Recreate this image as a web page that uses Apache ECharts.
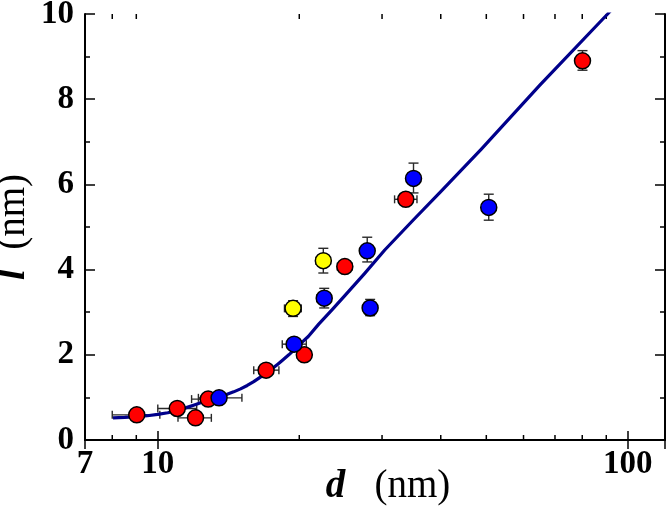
<!DOCTYPE html>
<html><head><meta charset="utf-8">
<script src="https://cdn.jsdelivr.net/npm/echarts@6/dist/echarts.min.js"></script>
<style>html,body{margin:0;padding:0;background:#fff}#c{width:667px;height:514px}</style>
</head><body><div id="c"></div>
<script>
// ---- data ----
const redD     = [9.02, 11.0, 12.03, 12.8, 17.0, 20.5, 25.0, 33.7, 80.1];
const redDLo   = [8.0, 10.0, 11.04, 11.8, 16.0, 19.8, 24.1, 31.9, 80.1];
const redDHi   = [10.1, 12.1, 13.0, 13.9, 18.1, 21.2, 25.9, 35.6, 80.1];
const redL     = [0.59, 0.74, 0.52, 0.96, 1.64, 2.0, 4.07, 5.65, 8.9];
const redLLo   = [0.59, 0.74, 0.52, 0.96, 1.64, 2.0, 3.96, 5.65, 8.68];
const redLHi   = [0.59, 0.74, 0.52, 0.96, 1.64, 2.0, 4.18, 5.65, 9.14];

const blueD    = [13.5, 19.5, 22.6, 27.9, 28.3, 35.0, 50.6];
const blueDLo  = [12.2, 18.4, 21.8, 27.1, 27.5, 35.0, 50.6];
const blueDHi  = [15.1, 20.7, 23.4, 28.7, 29.1, 35.0, 50.6];
const blueL    = [0.99, 2.25, 3.33, 4.44, 3.10, 6.14, 5.46];
const blueLLo  = [0.99, 2.15, 3.10, 4.18, 2.92, 5.80, 5.16];
const blueLHi  = [0.99, 2.35, 3.56, 4.76, 3.30, 6.50, 5.77];

const yelD     = [19.4, 22.5];
const yelDLo   = [18.6, 21.7];
const yelDHi   = [20.2, 23.3];
const yelL     = [3.09, 4.21];
const yelLLo   = [2.90, 3.92];
const yelLHi   = [3.27, 4.50];

const fitD = [8.03, 8.5, 9.0, 9.5, 10.0, 10.5, 11.0, 11.5, 12.0, 12.5, 13.0, 13.5, 14.0, 14.5, 15.0, 15.5, 16.0, 16.5, 17.0, 17.5, 18.0, 18.5, 19.0, 19.6, 20.2, 20.9, 22.0, 23.5, 25.0, 27.5, 30.4, 35.0, 40.0, 48.8, 65.0, 90.6, 95.0];
const fitL = [0.52, 0.53, 0.55, 0.57, 0.60, 0.64, 0.69, 0.76, 0.83, 0.90, 0.96, 1.02, 1.07, 1.13, 1.20, 1.28, 1.37, 1.47, 1.57, 1.67, 1.78, 1.89, 2.00, 2.14, 2.28, 2.43, 2.72, 3.06, 3.39, 3.90, 4.46, 5.17, 5.83, 6.83, 8.33, 10.0, 10.25];

const xMinorTicks = [8, 9, 20, 30, 40, 50, 60, 70, 80, 90];
const xMin = 7, xMax = 120;
const yTicks = {min: 0, max: 10, step: 2};

// ---- build ----
const zip = (a, b) => a.map((v, i) => [v, b[i]]);
const errRows = [];
function addErr(D, L, DLo, DHi, LLo, LHi) {
  D.forEach((d, i) => errRows.push([d, L[i], DLo[i], DHi[i], LLo[i], LHi[i]]));
}
addErr(redD, redL, redDLo, redDHi, redLLo, redLHi);
addErr(blueD, blueL, blueDLo, blueDHi, blueLLo, blueLHi);
addErr(yelD, yelL, yelDLo, yelDHi, yelLLo, yelLHi);

const FONT = '"Liberation Serif", "Times New Roman", Times, serif';
const errStyle = {stroke: '#2a2a2a', lineWidth: 1.4};

function seg(x1, y1, x2, y2, style) {
  return {type: 'line', shape: {x1, y1, x2, y2}, style};
}

function renderErr(params, api) {
  const d = api.value(0), l = api.value(1);
  const dlo = api.value(2), dhi = api.value(3), llo = api.value(4), lhi = api.value(5);
  const ch = [];
  const capV = 4, capH = 5;
  if (dhi > dlo) {
    const a = api.coord([dlo, l]), b = api.coord([dhi, l]);
    ch.push(seg(a[0], a[1], b[0], b[1], errStyle));
    ch.push(seg(a[0], a[1] - capV, a[0], a[1] + capV, errStyle));
    ch.push(seg(b[0], b[1] - capV, b[0], b[1] + capV, errStyle));
  }
  if (lhi > llo) {
    const a = api.coord([d, llo]), b = api.coord([d, lhi]);
    ch.push(seg(a[0], a[1], b[0], b[1], errStyle));
    ch.push(seg(a[0] - capH, a[1], a[0] + capH, a[1], errStyle));
    ch.push(seg(b[0] - capH, b[1], b[0] + capH, b[1], errStyle));
  }
  return {type: 'group', children: ch};
}

function renderTicks(params, api) {
  const cs = params.coordSys;
  const p = api.coord([api.value(0), yTicks.min]);
  const st = {stroke: '#000', lineWidth: 1.5};
  const len = 5;
  return {type: 'group', children: [
    seg(p[0], cs.y + cs.height, p[0], cs.y + cs.height - len, st),
    seg(p[0], cs.y, p[0], cs.y + len, st)
  ]};
}

const axisLineStyle = {color: '#000', width: 2};
const labelStyle = {fontFamily: FONT, fontWeight: 'bold', fontSize: 33, color: '#000'};
const titleRichX = {
  i: {fontFamily: FONT, fontStyle: 'italic', fontWeight: 'bold', fontSize: 39, color: '#000', padding: [0, 0, 0, 26]},
  r: {fontFamily: FONT, fontSize: 39, color: '#000'}
};
const titleRichY = {
  i: {fontFamily: FONT, fontStyle: 'italic', fontWeight: 'bold', fontSize: 39, color: '#000'},
  r: {fontFamily: FONT, fontSize: 39, color: '#000'}
};

const option = {
  animation: false,
  backgroundColor: '#fff',
  grid: {left: 85, right: 2, top: 14, bottom: 74, containLabel: false, outerBoundsMode: 'none'},
  xAxis: [{
    type: 'log', logBase: 10, min: xMin, max: xMax, position: 'bottom',
    axisLine: {lineStyle: axisLineStyle},
    axisTick: {inside: true, length: 9, lineStyle: {color: '#000', width: 1.5}},
    axisLabel: Object.assign({margin: 8, showMaxLabel: false,
      formatter: v => (Math.abs(v - xMax) < 1 ? '' : String(Math.round(v)))}, labelStyle),
    splitLine: {show: false},
    name: '{i|d}{r|   (nm)}', nameLocation: 'middle', nameGap: 27, nameMoveOverlap: false,
    nameTextStyle: {rich: titleRichX}
  }, {
    type: 'log', logBase: 10, min: xMin, max: xMax, position: 'top',
    axisLine: {lineStyle: axisLineStyle},
    axisTick: {inside: true, length: 9, lineStyle: {color: '#000', width: 1.5}},
    axisLabel: {show: false}, splitLine: {show: false}
  }],
  yAxis: [{
    type: 'value', min: yTicks.min, max: yTicks.max, interval: yTicks.step, position: 'left',
    axisLine: {show: true, lineStyle: axisLineStyle},
    axisTick: {show: true, inside: true, length: 10, lineStyle: {color: '#000', width: 1.5}},
    minorTick: {show: true, splitNumber: 2, length: 5, lineStyle: {color: '#000', width: 1.5}},
    axisLabel: Object.assign({margin: 11}, labelStyle),
    splitLine: {show: false},
    name: '{i|l}{r|  (nm)}', nameLocation: 'middle', nameGap: 52, nameRotate: 90, nameMoveOverlap: false,
    nameTextStyle: {rich: titleRichY}
  }, {
    type: 'value', min: yTicks.min, max: yTicks.max, interval: yTicks.step, position: 'right',
    axisLine: {show: true, lineStyle: axisLineStyle},
    axisTick: {show: true, inside: true, length: 10, lineStyle: {color: '#000', width: 1.5}},
    minorTick: {show: true, splitNumber: 2, length: 5, lineStyle: {color: '#000', width: 1.5}},
    axisLabel: {show: false}, splitLine: {show: false}
  }],
  series: [
    {type: 'custom', name: 'xticks', renderItem: renderTicks, data: xMinorTicks.map(v => [v, 0]),
     encode: {x: 0, y: 1}, z: 1, silent: true},
    {type: 'custom', name: 'err', renderItem: renderErr, data: errRows,
     encode: {x: [0, 2, 3], y: [1, 4, 5]}, z: 2, silent: true},
    {type: 'line', name: 'fit', data: zip(fitD, fitL), smooth: false,
     showSymbol: false, symbol: 'none',
     lineStyle: {color: '#00008b', width: 3.2, join: 'round'}, z: 3, clip: true},
    {type: 'scatter', name: 'red', data: zip(redD, redL), symbolSize: 16,
     itemStyle: {color: '#ff0000', borderColor: '#000', borderWidth: 1.5, opacity: 1}, z: 4},
    {type: 'scatter', name: 'blue', data: zip(blueD, blueL), symbolSize: 16,
     itemStyle: {color: '#0000ff', borderColor: '#000', borderWidth: 1.5, opacity: 1}, z: 4},
    {type: 'scatter', name: 'yellow', data: zip(yelD, yelL), symbolSize: 16,
     itemStyle: {color: '#ffff00', borderColor: '#000', borderWidth: 1.5, opacity: 1}, z: 4}
  ]
};
const chart = echarts.init(document.getElementById('c'));
chart.setOption(option);
</script>
</body></html>
